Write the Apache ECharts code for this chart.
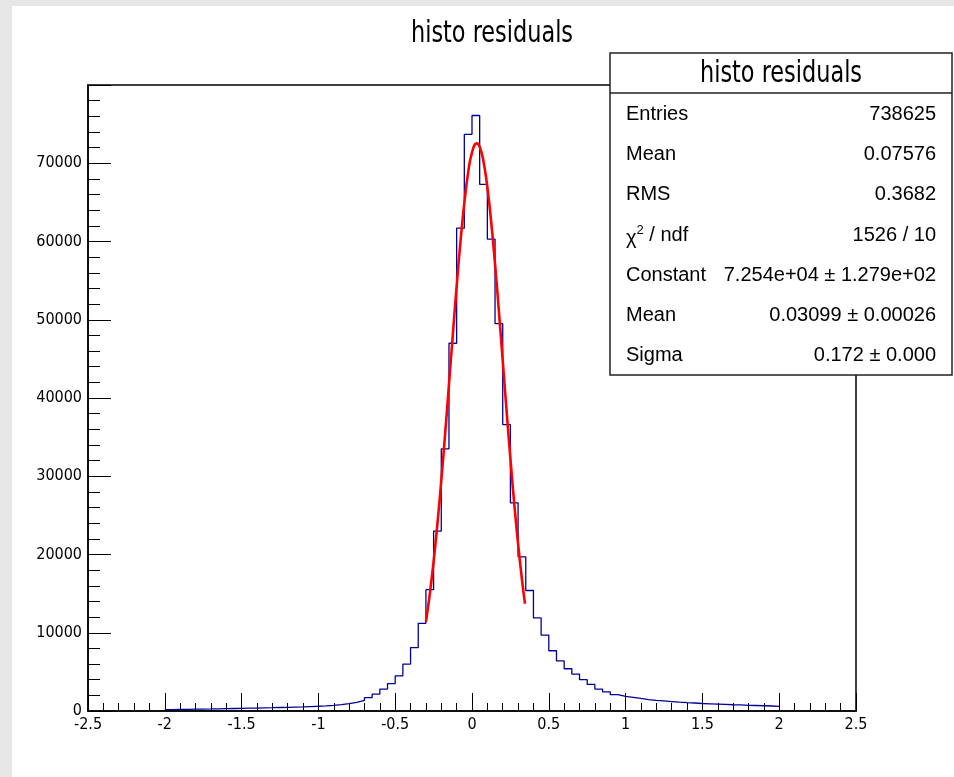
<!DOCTYPE html>
<html>
<head>
<meta charset="utf-8">
<script src="https://cdn.jsdelivr.net/npm/echarts@6/dist/echarts.min.js"></script>
<style>
html,body{margin:0;padding:0;background:#fff;}
#c{width:954px;height:777px;}
</style>
</head>
<body>
<div id="c"></div>
<script>
// ---- data ----
const chartTitle = 'histo residuals';
const binStart = -2.0;
const binWidth = 0.05;
// bin contents, 80 bins from -2 to 2
const counts = [
  180, 200, 215, 230, 245, 260, 280, 300, 320, 340,
  360, 380, 400, 420, 445, 470, 500, 530, 570, 610,
  660, 730, 820, 930, 1100, 1350, 1700, 2150, 2800, 3500,
  4500, 6000, 8100, 11200, 15500, 23000, 33500, 47000, 61700, 73700,
  76100, 67300, 60300, 49500, 36600, 26600, 19700, 15400, 11900, 9700,
  7700, 6400, 5400, 4700, 4000, 3400, 2800, 2450, 2100, 1870,
  1750, 1600, 1460, 1370, 1290, 1210, 1130, 1070, 1020, 960,
  920, 880, 840, 800, 770, 730, 700, 670, 640, 600
];
// gaussian fit curve points
const fitX = [-0.300,-0.275,-0.250,-0.225,-0.200,-0.175,-0.150,-0.125,-0.100,-0.075,-0.050,-0.025,0.000,0.031,0.050,0.075,0.100,0.125,0.150,0.175,0.200,0.225,0.250,0.275,0.300,0.325,0.345];
const fitY = [11387,14906,19100,23964,29439,35408,41699,48079,54276,59993,64926,68796,71371,72540,72099,70205,66932,62477,57101,51095,44765,38400,32252,26521,21351,16832,13700];
const xTicks = {min: -2.5, max: 2.5, step: 0.5};
const yTicks = {min: 0, max: 80000, step: 10000};
const statsTitle = 'histo residuals';
const statsLabels = ['Entries', 'Mean', 'RMS', 'CHI2', 'Constant', 'Mean', 'Sigma'];
const statsValues = ['738625', '0.07576', '0.3682', '1526 / 10', '7.254e+04 \u00b1 1.279e+02', '0.03099 \u00b1 0.00026', '0.172 \u00b1 0.000'];

// ---- build ----
const histData = counts.map((v, i) => [binStart + i * binWidth, v]);
histData.push([binStart + counts.length * binWidth, counts[counts.length - 1]]);
const fitData = fitX.map((x, i) => [x, fitY[i]]);

const FN = "'Liberation Sans Narrow', 'DejaVu Sans Condensed', sans-serif";
const FS = "'Liberation Sans', Arial, sans-serif";

const box = {x: 610, y: 53, w: 342, h: 322, head: 40};
const rowH = (box.h - box.head) / statsLabels.length;
const statEls = [];
statEls.push({type: 'rect', shape: {x: box.x, y: box.y, width: box.w, height: box.h},
  style: {fill: '#fff', stroke: '#222', lineWidth: 1.5}, z: 100});
statEls.push({type: 'line', shape: {x1: box.x, y1: box.y + box.head, x2: box.x + box.w, y2: box.y + box.head},
  style: {stroke: '#222', lineWidth: 1.5}, z: 101});
statEls.push({type: 'text', x: box.x + box.w / 2, y: box.y + box.head / 2 + 1, scaleX: 0.83, z: 101,
  style: {text: statsTitle, font: '30px ' + FN, fill: '#000', align: 'center', verticalAlign: 'middle'}});
statsLabels.forEach((lab, i) => {
  const cy = box.y + box.head + rowH * (i + 0.5) + 1;
  if (lab === 'CHI2') {
    statEls.push({type: 'text', x: box.x + 16, y: cy, z: 101,
      style: {text: '{g|\u03c7}{s|2}{n| / ndf}', align: 'left', verticalAlign: 'middle', fill: '#000',
        rich: {g: {fontFamily: FS, fontSize: 20, fill: '#000', padding: [6, 0, 0, 0]},
               s: {fontFamily: FS, fontSize: 13, fill: '#000', padding: [0, 0, 10, 0]},
               n: {fontFamily: FS, fontSize: 20, fill: '#000'}}}});
  } else {
    statEls.push({type: 'text', x: box.x + 16, y: cy, z: 101,
      style: {text: lab, font: '20px ' + FS, fill: '#000', align: 'left', verticalAlign: 'middle'}});
  }
  statEls.push({type: 'text', x: box.x + box.w - 16, y: cy, z: 101,
    style: {text: statsValues[i], font: '20px ' + FS, fill: '#000', align: 'right', verticalAlign: 'middle'}});
});

const chart = echarts.init(document.getElementById('c'), null, {renderer: 'canvas'});
chart.setOption({
  backgroundColor: '#fff',
  animation: false,
  grid: {left: 88, top: 85, width: 768, height: 626, show: true, borderColor: '#000', borderWidth: 1.5, backgroundColor: 'transparent'},
  xAxis: {type: 'value', min: xTicks.min, max: xTicks.max, interval: xTicks.step,
    axisLine: {show: true, onZero: false, lineStyle: {color: '#000', width: 1.5}},
    axisTick: {show: true, inside: true, length: 18, lineStyle: {color: '#000', width: 1}},
    minorTick: {show: true, splitNumber: 5, length: 8, lineStyle: {color: '#000', width: 1}},
    splitLine: {show: false},
    axisLabel: {color: '#000', fontFamily: FN, fontSize: 16, margin: 6}},
  yAxis: {type: 'value', min: yTicks.min, max: yTicks.max, interval: yTicks.step,
    axisLine: {show: true, onZero: false, lineStyle: {color: '#000', width: 1.5}},
    axisTick: {show: true, inside: true, length: 23, lineStyle: {color: '#000', width: 1}},
    minorTick: {show: true, splitNumber: 5, length: 12, lineStyle: {color: '#000', width: 1}},
    splitLine: {show: false},
    axisLabel: {color: '#000', fontFamily: FN, fontSize: 16, margin: 6,
      formatter: v => (v >= yTicks.max ? '' : String(v))}},
  series: [
    {type: 'line', data: histData, step: 'end', showSymbol: false, symbol: 'none',
      lineStyle: {color: '#000099', width: 1.3}, z: 3},
    {type: 'line', data: fitData, smooth: true, showSymbol: false, symbol: 'none',
      lineStyle: {color: '#ff0000', width: 2.6}, z: 4}
  ],
  graphic: [
    {type: 'rect', shape: {x: 0, y: 0, width: 954, height: 6}, style: {fill: '#e6e6e6'}, z: 0},
    {type: 'rect', shape: {x: 0, y: 0, width: 12, height: 777}, style: {fill: '#e6e6e6'}, z: 0},
    {type: 'text', x: 492, y: 34, scaleX: 0.83, z: 10,
      style: {text: chartTitle, font: '30px ' + FN, fill: '#000', align: 'center', verticalAlign: 'middle'}},
    ...statEls
  ]
});
</script>
</body>
</html>
